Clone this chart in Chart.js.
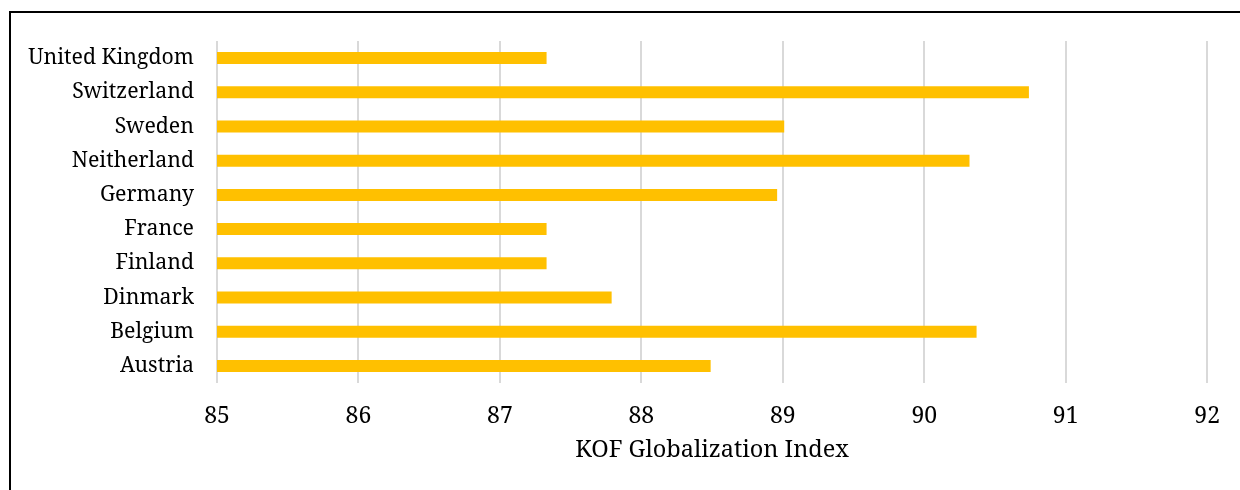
<!DOCTYPE html>
<html>
<head>
<meta charset="utf-8">
<script src="https://cdn.jsdelivr.net/npm/chart.js@4/dist/chart.umd.min.js"></script>
<style>
  html, body { margin: 0; padding: 0; background: #fff; overflow: hidden; }
  #wrap { position: relative; width: 1240px; height: 490px; }
  #frame { position: absolute; left: 9px; top: 11px; width: 1300px; height: 600px;
           border-left: 2px solid #000; border-top: 2px solid #000; pointer-events: none; }
  canvas { position: absolute; left: 0; top: 0; }
</style>
</head>
<body>
<div id="wrap">
  <canvas id="chart" width="1240" height="490"></canvas>
  <div id="frame"></div>
</div>
<script>
const categories = ["United Kingdom", "Switzerland", "Sweden", "Neitherland", "Germany",
                    "France", "Finland", "Dinmark", "Belgium", "Austria"];
const kofValues = [87.33, 90.74, 89.01, 90.32, 88.96, 87.33, 87.33, 87.79, 90.37, 88.49];
const xTicks = [85, 86, 87, 88, 89, 90, 91, 92];
const axisTitle = "KOF Globalization Index";

const SERIF = '"Noto Serif", serif';

new Chart(document.getElementById('chart'), {
  type: 'bar',
  data: {
    labels: categories,
    datasets: [{
      data: kofValues,
      backgroundColor: '#FFC000',
      borderWidth: 0,
      categoryPercentage: 1,
      barPercentage: 0.35
    }]
  },
  options: {
    indexAxis: 'y',
    responsive: false,
    animation: false,
    layout: { padding: { left: 0, right: 30, top: 41, bottom: 0 } },
    plugins: { legend: { display: false }, tooltip: { enabled: false }, title: { display: false } },
    scales: {
      x: {
        type: 'linear',
        min: xTicks[0],
        max: xTicks[xTicks.length - 1],
        afterBuildTicks: s => { s.ticks = xTicks.map(v => ({ value: v })); },
        afterFit: s => { s.height = 107; },
        grid: { display: true, color: '#d9d9d9', lineWidth: 2, drawTicks: false },
        border: { display: false },
        ticks: { color: '#000', font: { family: SERIF, size: 23 }, padding: 20, maxRotation: 0, autoSkip: false },
        title: { display: true, text: axisTitle, color: '#000',
                 font: { family: SERIF, size: 23.5 }, padding: { top: 0, bottom: 26 } }
      },
      y: {
        afterFit: s => { s.width = 217; },
        grid: { display: false },
        border: { display: false },
        ticks: { color: '#000', font: { family: SERIF, size: 21.3 }, padding: 15, autoSkip: false }
      }
    }
  }
});
</script>
</body>
</html>
